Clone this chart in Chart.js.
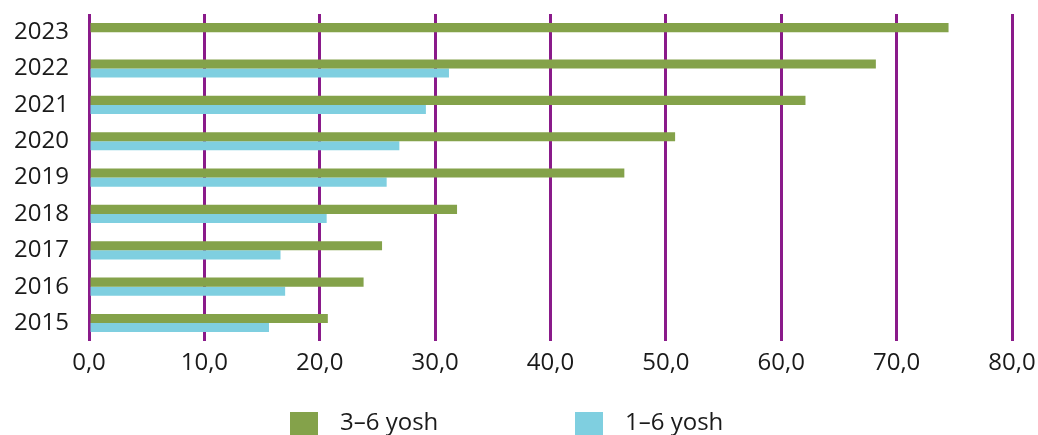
<!DOCTYPE html>
<html lang="uz">
<head>
<meta charset="UTF-8">
<title>Maktabgacha ta'lim qamrovi</title>
<script src="https://cdn.jsdelivr.net/npm/chart.js"></script>
<style>
  html, body { margin: 0; padding: 0; overflow: hidden; background: #fff; }
  #wrap { width: 1038px; height: 435px; }
</style>
</head>
<body>
<div id="wrap"><canvas id="coverageChart"></canvas></div>
<script>
  const years = ['2023', '2022', '2021', '2020', '2019', '2018', '2017', '2016', '2015'];
  const age3to6 = [74.5, 68.2, 62.1, 50.8, 46.4, 31.9, 25.4, 23.8, 20.7];
  const age1to6 = [null, 31.2, 29.2, 26.9, 25.8, 20.6, 16.6, 17.0, 15.6];
  const seriesNames = ['3–6 yosh', '1–6 yosh'];

  const font = { family: '"Open Sans", sans-serif', size: 24 };
  const textColor = '#1a1a1a';

  // legend is drawn by hand: the built-in one can't space items this wide
  const legendX = [290, 575];
  const legendTop = 412;

  const wideLegend = {
    id: 'wideLegend',
    afterDraw(chart) {
      const ctx = chart.ctx;
      ctx.save();
      ctx.font = font.size + 'px ' + font.family;
      ctx.textBaseline = 'alphabetic';
      ctx.textAlign = 'left';
      chart.data.datasets.forEach((ds, i) => {
        ctx.fillStyle = ds.backgroundColor;
        ctx.fillRect(legendX[i], legendTop, 28, 24);
        ctx.fillStyle = textColor;
        ctx.fillText(ds.label, legendX[i] + 50, legendTop + 18);
      });
      ctx.restore();
    }
  };

  new Chart(document.getElementById('coverageChart'), {
    type: 'bar',
    data: {
      labels: years,
      datasets: [
        { label: seriesNames[0], data: age3to6, backgroundColor: '#84a24a' },
        { label: seriesNames[1], data: age1to6, backgroundColor: '#7fcfe0' }
      ]
    },
    options: {
      indexAxis: 'y',
      responsive: true,
      maintainAspectRatio: false,
      animation: false,
      categoryPercentage: 0.5,
      barPercentage: 1.0,
      layout: { padding: { top: 14, left: 10, right: 0, bottom: 49 } },
      scales: {
        x: {
          min: 0,
          max: 80,
          afterFit: s => { s.paddingRight = 26; s.paddingLeft = 0; },
          ticks: {
            stepSize: 10,
            color: textColor,
            font: font,
            padding: 8,
            callback: v => v.toFixed(1).replace('.', ',')
          },
          grid: { color: '#8a1a8a', lineWidth: 3, drawTicks: false },
          border: { display: false }
        },
        y: {
          afterFit: s => { s.width = 79; s.paddingTop = 0; s.paddingBottom = 0; },
          ticks: { color: textColor, font: font, padding: 20, autoSkip: false },
          grid: { display: false, drawTicks: false },
          border: { display: false }
        }
      },
      plugins: {
        tooltip: { enabled: false },
        legend: { display: false }
      }
    },
    plugins: [wideLegend]
  });
</script>
</body>
</html>
